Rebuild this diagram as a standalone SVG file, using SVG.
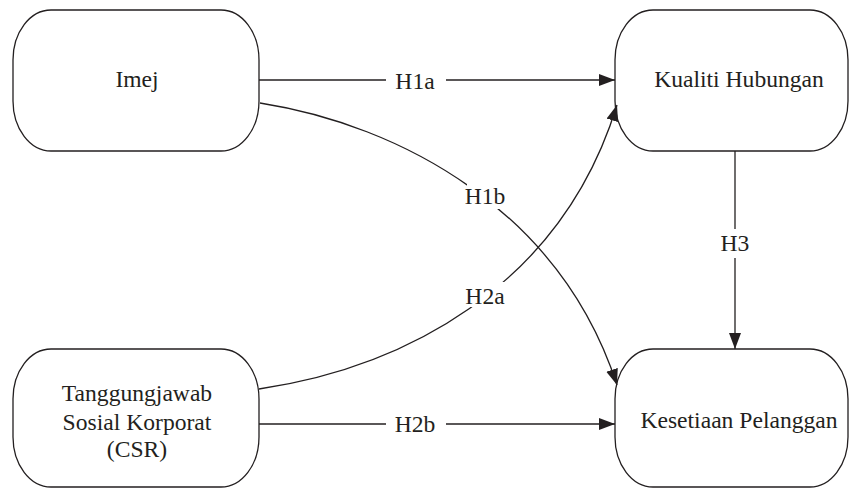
<svg xmlns="http://www.w3.org/2000/svg" width="851" height="489" viewBox="0 0 851 489">
<defs>
<style>
.node{fill:#fff;stroke:#231f20;stroke-width:1.3}
.t{font-family:'Liberation Serif','DejaVu Serif',serif;font-size:23.6px;fill:#231f20;text-anchor:middle}
.c{fill:none;stroke:#231f20;stroke-width:1.3}
.bg{fill:#fff;stroke:none}
</style>
<marker id="ah" markerUnits="userSpaceOnUse" markerWidth="17" markerHeight="13" refX="16" refY="6" orient="auto">
<path d="M0,0 L16,6 L0,12 z" fill="#231f20"/>
</marker>
</defs>
<rect width="851" height="489" fill="#fff"/>
<g font-family="Liberation Serif, DejaVu Serif, serif">
<g id="node-imej"><rect class="node" x="13" y="10" width="246" height="141" rx="38" ry="50"/><text class="t" x="137" y="87">Imej</text></g>
<g id="node-kualiti"><rect class="node" x="615" y="10" width="233" height="141" rx="38" ry="50"/><text class="t" x="739" y="87">Kualiti Hubungan</text></g>
<g id="node-csr"><rect class="node" x="13" y="349" width="246" height="138" rx="38" ry="50"/><text class="t" x="137" y="401">Tanggungjawab</text><text class="t" x="137" y="430">Sosial Korporat</text><text class="t" x="137" y="457">(CSR)</text></g>
<g id="node-kesetiaan"><rect class="node" x="615" y="349" width="233" height="138" rx="38" ry="50"/><text class="t" x="739" y="428">Kesetiaan Pelanggan</text></g>
<g id="connectors">
<path class="c" d="M259,80 H615" marker-end="url(#ah)"/>
<rect class="bg" x="386" y="66" width="60" height="28"/>
<text class="t" x="415" y="89">H1a</text>
<path class="c" d="M259,424 H615" marker-end="url(#ah)"/>
<rect class="bg" x="386" y="410" width="60" height="28"/>
<text class="t" x="415" y="432">H2b</text>
<path class="c" d="M735,151 V349" marker-end="url(#ah)"/>
<rect class="bg" x="718" y="229" width="34" height="29"/>
<text class="t" x="735" y="251">H3</text>
<path class="c" d="M260,103 C400,125 560,210 617,385" marker-end="url(#ah)"/>
<path class="c" d="M259,389 C400,368 560,290 617,105" marker-end="url(#ah)"/>
<rect class="bg" x="467" y="184" width="38" height="25"/>
<text class="t" x="485" y="204">H1b</text>
<rect class="bg" x="467" y="282" width="38" height="25"/>
<text class="t" x="485" y="304">H2a</text>
</g>
</g>
</svg>
